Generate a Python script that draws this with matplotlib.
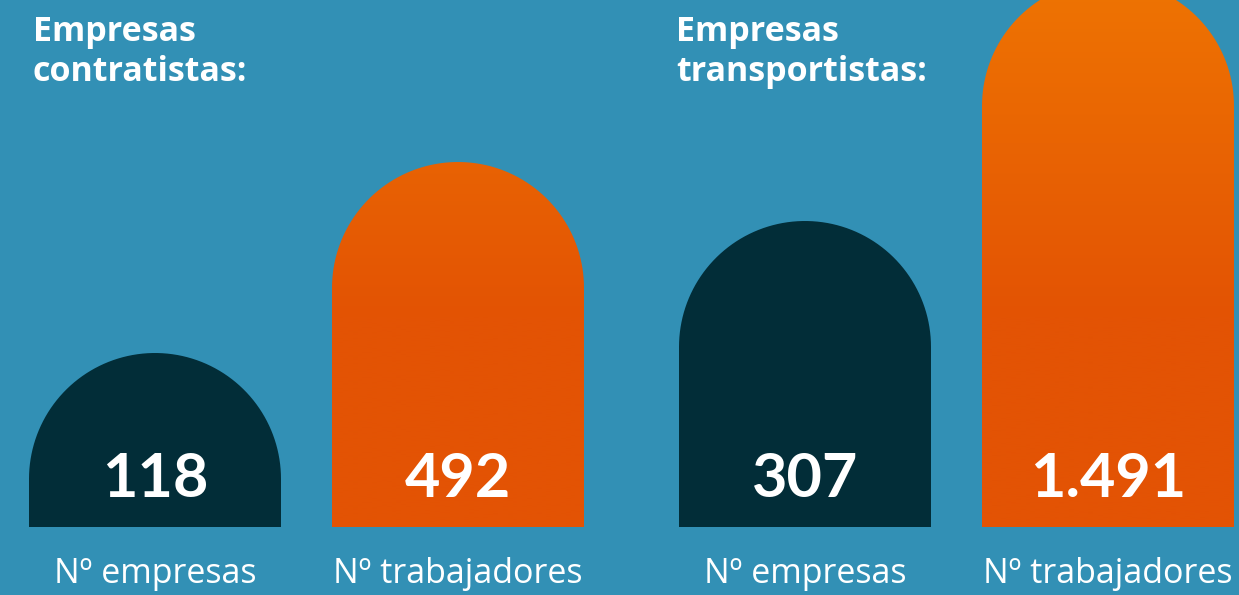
import numpy as np
import matplotlib.pyplot as plt
from matplotlib.patches import Polygon
from matplotlib.colors import LinearSegmentedColormap

# data
groups = ["Empresas\ncontratistas:", "Empresas\ntransportistas:"]
labels = ["Nº empresas", "Nº trabajadores"]
values = [["118", "492"], ["307", "1.491"]]
heights = [[174, 365], [306, 547]]  # bar heights as drawn (px), not to scale

bg = "#3290b5"
dark = "#022d38"
orange_cmap = LinearSegmentedColormap.from_list("orng", ["#ef7502", "#e35304"])

W, H = 1239, 595
base = 527
bar_w = 252
fig = plt.figure(figsize=(W / 100, H / 100), dpi=100, facecolor=bg)
ax = fig.add_axes([0, 0, 1, 1])
ax.set_facecolor(bg)
ax.set_xlim(0, W)
ax.set_ylim(H, 0)
ax.axis("off")

# vertical gradient image for the orange bars (lighter at top)
grad = np.clip(np.linspace(0, H, 300) / 330.0, 0, 1).reshape(-1, 1)


def arch(cx, h):
    r = bar_w / 2
    top = base - h + r
    t = np.linspace(np.pi, 0, 80)
    pts = [(cx - r, base)]
    pts += list(zip(cx + r * np.cos(t), top - r * np.sin(t)))
    pts.append((cx + r, base))
    return pts


for g, name in enumerate(groups):
    tx = 33 + g * 643
    l1, l2 = name.split("\n")
    ax.text(tx, 41, l1, color="white", fontsize=24.5,
            fontweight="bold", family="Open Sans", va="baseline", ha="left")
    ax.text(tx, 81, l2, color="white", fontsize=24.5,
            fontweight="bold", family="Open Sans", va="baseline", ha="left")
    for i in range(2):
        cx = 155 + g * 650 + i * 303
        poly = Polygon(arch(cx, heights[g][i]), closed=True,
                       facecolor=dark if i == 0 else "none", edgecolor="none")
        ax.add_patch(poly)
        if i == 1:
            im = ax.imshow(grad, cmap=orange_cmap, extent=[0, W, H, -30],
                           aspect="auto", interpolation="bilinear", zorder=1)
            im.set_clip_path(poly)
        ax.text(cx, 497, values[g][i], color="white", fontsize=44,
                fontweight="bold", family="Lato", ha="center", va="baseline", zorder=3)
        ax.text(cx, 583, labels[i], color="white", fontsize=24.5,
                family="Open Sans", ha="center", va="baseline", zorder=3)

ax.set_xlim(0, W)
ax.set_ylim(H, 0)
fig.savefig("out.png", dpi=100, facecolor=bg)
